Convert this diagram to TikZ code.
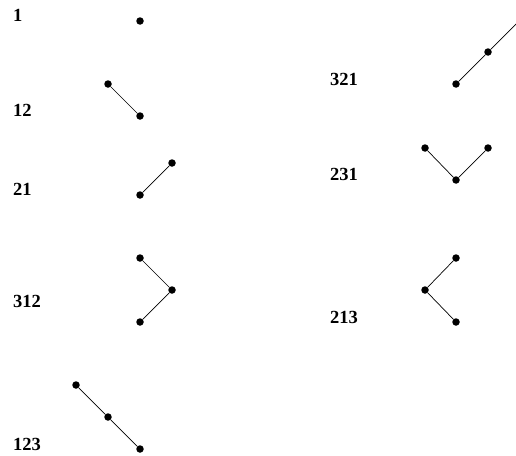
\documentclass[tikz,border=0pt]{standalone}
\usepackage{fontspec}
\setmainfont{Liberation Serif}
\begin{document}
\begin{tikzpicture}[x=1pt,y=-1pt,
  pt/.style={circle,fill=black,inner sep=0pt,minimum size=7.5pt},
  lbl/.style={anchor=base west,inner sep=0pt,font=\fontsize{18.5}{20}\selectfont\bfseries},
  edge/.style={line width=0.7pt}]
\useasboundingbox (0,0) rectangle (516,455);
\clip (0,0) rectangle (516,455);
% 1
\node[lbl] (l1) at (13,21) {1};
\node[pt] (a1) at (140,21) {};
% 12
\node[lbl] (l12) at (13,116) {12};
\node[pt] (b1) at (108,84) {};
\node[pt] (b2) at (140,116) {};
\draw[edge] (b1) -- (b2);
% 21
\node[lbl] (l21) at (13,195) {21};
\node[pt] (c1) at (140,195) {};
\node[pt] (c2) at (172,163) {};
\draw[edge] (c1) -- (c2);
% 312
\node[lbl] (l312) at (13,307) {312};
\node[pt] (d1) at (140,258) {};
\node[pt] (d2) at (172,290) {};
\node[pt] (d3) at (140,322) {};
\draw[edge] (d1) -- (d2) -- (d3);
% 123
\node[lbl] (l123) at (13,450) {123};
\node[pt] (e1) at (76,385) {};
\node[pt] (e2) at (108,417) {};
\node[pt] (e3) at (140,449) {};
\draw[edge] (e1) -- (e2) -- (e3);
% 321
\node[lbl] (l321) at (330,85) {321};
\node[pt] (f1) at (456,84) {};
\node[pt] (f2) at (488,52) {};
\coordinate (f3) at (520,20);
\draw[edge] (f1) -- (f2) -- (f3);
% 231
\node[lbl] (l231) at (330,180) {231};
\node[pt] (g1) at (425,148) {};
\node[pt] (g2) at (456,180) {};
\node[pt] (g3) at (488,148) {};
\draw[edge] (g1) -- (g2) -- (g3);
% 213
\node[lbl] (l213) at (330,323) {213};
\node[pt] (h1) at (456,258) {};
\node[pt] (h2) at (425,290) {};
\node[pt] (h3) at (456,322) {};
\draw[edge] (h1) -- (h2) -- (h3);
\end{tikzpicture}
\end{document}
